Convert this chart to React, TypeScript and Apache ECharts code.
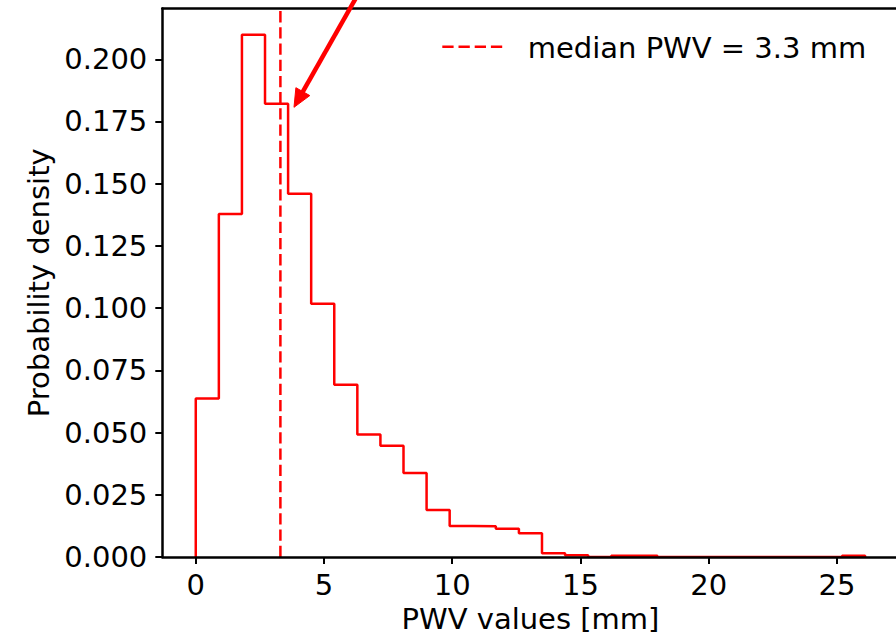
import React, { useEffect, useRef } from "react";
import * as echarts from "echarts";

// Histogram bin edges (mm) and normalised counts per bin
const binEdges = [
  0, 0.9, 1.8, 2.7, 3.6, 4.5, 5.4, 6.3, 7.2, 8.1, 9.0, 9.9, 10.8, 11.7, 12.6,
  13.5, 14.4, 15.3, 16.2, 17.1, 18.0, 18.9, 19.8, 20.7, 21.6, 22.5, 23.4, 24.3,
  25.2, 26.1,
];
const density = [
  0.0637, 0.1378, 0.2099, 0.1821, 0.146, 0.1018, 0.0692, 0.0492, 0.0447,
  0.0338, 0.0189, 0.0125, 0.0124, 0.0114, 0.0095, 0.0015, 0.0007, 0, 0.0005,
  0.0005, 0, 0, 0, 0, 0, 0, 0, 0, 0.0005,
];
const medianPWV = 3.3;

const xTicks = [0, 5, 10, 15, 20, 25];
const yTicks = [0, 0.025, 0.05, 0.075, 0.1, 0.125, 0.15, 0.175, 0.2];
const xRange = [-1.305, 27.405];
const yRange = [0, 0.2204];

// Annotation arrow, in data coordinates (tail runs off the top of the axes)
const arrowTail = [6.65, 0.232];
const arrowTip = [3.83, 0.1807];

const FONT = "DejaVu Sans";
const RED = "#ff0000";
const DASH = [11.3, 4.9];

const spine = { show: true, onZero: false, lineStyle: { color: "#000", width: 2.5 } };
const labelFont = { fontSize: 29, fontFamily: FONT, color: "#000" };

export default function App() {
  const ref = useRef<HTMLDivElement>(null);

  useEffect(() => {
    const chart = echarts.init(ref.current!, null, { renderer: "svg" });

    const stepPoints: number[][] = [[binEdges[0], 0]];
    density.forEach((d, i) => stepPoints.push([binEdges[i], d]));
    stepPoints.push([binEdges[binEdges.length - 1], 0]);

    const medianLabel = `median PWV = ${medianPWV} mm`;

    chart.setOption({
      animation: false,
      backgroundColor: "#ffffff",
      textStyle: { fontFamily: FONT },
      grid: {
        left: 162.3,
        top: 8.5,
        right: 1.4,
        bottom: 80.3,
        show: false,
      },
      xAxis: [
        {
          type: "value",
          position: "bottom",
          min: xRange[0],
          max: xRange[1],
          z: 5,
          name: "PWV values [mm]",
          nameLocation: "middle",
          nameGap: 47,
          nameTextStyle: labelFont,
          axisLine: spine,
          axisTick: {
            show: true,
            length: 7,
            lineStyle: { color: "#000", width: 2 },
            customValues: xTicks,
          },
          axisLabel: { customValues: xTicks, margin: 13, ...labelFont },
          splitLine: { show: false },
        },
        {
          // top frame edge
          type: "value",
          position: "top",
          min: xRange[0],
          max: xRange[1],
          z: 5,
          axisLine: spine,
          axisTick: { show: false },
          axisLabel: { show: false },
          splitLine: { show: false },
        },
      ],
      yAxis: {
        type: "value",
        min: yRange[0],
        max: yRange[1],
        z: 5,
        name: "Probability density",
        nameLocation: "middle",
        nameGap: 107,
        nameTextStyle: labelFont,
        axisLine: spine,
        axisTick: {
          show: true,
          length: 7,
          lineStyle: { color: "#000", width: 2 },
          customValues: yTicks,
        },
        axisLabel: {
          customValues: yTicks,
          margin: 15,
          ...labelFont,
          formatter: (v: number) => v.toFixed(3),
        },
        splitLine: { show: false },
      },
      series: [
        {
          name: "PWV",
          type: "line",
          step: "end",
          data: stepPoints,
          symbol: "none",
          z: 2,
          lineStyle: { color: RED, width: 2.5 },
        },
        {
          name: medianLabel,
          type: "line",
          data: [
            [medianPWV, yRange[0]],
            [medianPWV, yRange[1]],
          ],
          symbol: "none",
          z: 3,
          lineStyle: { color: RED, width: 2.5, type: DASH },
        },
      ],
    });

    // Arrow pointing at the median bin
    const tip = chart.convertToPixel({ gridIndex: 0 }, arrowTip) as number[];
    const tail = chart.convertToPixel({ gridIndex: 0 }, arrowTail) as number[];
    const dx = tip[0] - tail[0];
    const dy = tip[1] - tail[1];
    const len = Math.hypot(dx, dy);
    const ux = dx / len;
    const uy = dy / len;
    const headLen = 18;
    const headHalf = 8;
    const bx = tip[0] - ux * headLen;
    const by = tip[1] - uy * headLen;

    chart.setOption({
      graphic: [
        {
          type: "line",
          z: 10,
          shape: { x1: tail[0], y1: tail[1], x2: bx + ux * 2, y2: by + uy * 2 },
          style: { stroke: RED, lineWidth: 4.5 },
        },
        {
          type: "polygon",
          z: 10,
          shape: {
            points: [
              [tip[0], tip[1]],
              [bx - uy * headHalf, by + ux * headHalf],
              [bx + uy * headHalf, by - ux * headHalf],
            ],
          },
          style: { fill: RED, stroke: RED, lineWidth: 1 },
        },
        // Legend entry for the median line
        {
          type: "line",
          z: 10,
          shape: { x1: 442.3, y1: 46.7, x2: 502.3, y2: 46.7 },
          style: { stroke: RED, lineWidth: 2.5, lineDash: DASH },
        },
        {
          type: "text",
          z: 10,
          x: 527.7,
          y: 48,
          style: {
            text: medianLabel,
            font: `29px '${FONT}'`,
            fill: "#000",
            verticalAlign: "middle",
            align: "left",
          },
        },
      ],
    });

    return () => chart.dispose();
  }, []);

  return (
    <div
      style={{
        position: "fixed",
        left: 0,
        top: 0,
        width: 896,
        height: 638,
        overflow: "hidden",
        background: "#fff",
      }}
    >
      <div ref={ref} style={{ width: 900, height: 638 }} />
    </div>
  );
}
